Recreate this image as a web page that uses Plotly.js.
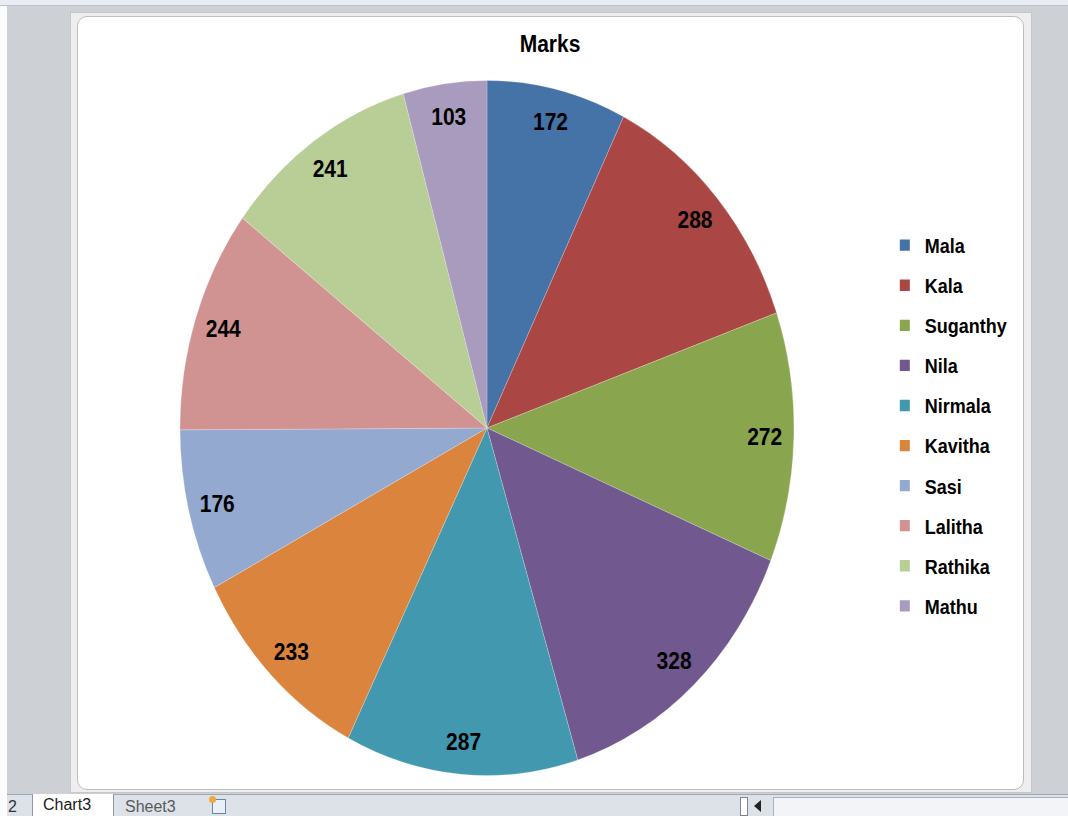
<!DOCTYPE html>
<html>
<head>
<meta charset="utf-8">
<script src="https://cdn.plot.ly/plotly-3.0.1.min.js"></script>
<style>
  html, body { margin: 0; padding: 0; width: 1068px; height: 816px; overflow: hidden; background: #CDD1D6; font-family: "Liberation Sans", Arial, sans-serif; }
  #leftstrip { position: absolute; left: 0; top: 0; width: 7px; height: 816px; background: #FBFBFC; }
  #topstrip { position: absolute; left: 0; top: 0; width: 1068px; height: 5px; background: #E9EDF3; border-bottom: 1px solid #BCC3CD; }
  #frame { position: absolute; left: 70px; top: 12px; width: 960px; height: 779px; background: #EEEEEE; border: 1px solid #C6C6C6; }
  #inner { position: absolute; left: 77px; top: 16px; width: 945px; height: 772px; background: #FFFFFF; border: 1px solid #BDBDBD; border-radius: 10px; }
  #chart { position: absolute; left: 70px; top: 12px; width: 962px; height: 690px; transform: scaleY(1.132); transform-origin: 0 0; }
  #tabbar { position: absolute; left: 7px; top: 794px; width: 1061px; height: 22px; background: #DDE2E9; border-top: 1px solid #9FA8B5; }
  .tabtxt { position: absolute; top: 2px; font-size: 16px; line-height: 20px; }
  #tab1 { position: absolute; left: 25px; top: -1px; width: 80px; height: 23px; background: #FFFFFF; border-left: 1px solid #8E98A6; border-right: 1px solid #8E98A6; }
  #scroll { position: absolute; left: 773px; top: 797px; width: 295px; height: 19px; background: #F2F4F7; border-left: 1px solid #A9B1BC; border-top: 1px solid #A9B1BC; }
  #sbox { position: absolute; left: 740px; top: 797px; width: 6px; height: 17px; background: #FFFFFF; border: 1px solid #7D8692; }
</style>
</head>
<body>
<div id="leftstrip"></div>
<div id="topstrip"></div>
<div id="frame"></div>
<div id="inner"></div>
<div id="chart"></div>
<div id="tabbar">
  <div class="tabtxt" style="left:1px;color:#333;">2</div>
  <div id="tab1"><div class="tabtxt" style="left:10px;top:1px;color:#1A1A1A;">Chart3</div></div>
  <div class="tabtxt" style="left:118px;color:#5A5A5A;">Sheet3</div>
  <div style="position:absolute;left:205px;top:4px;width:12px;height:13px;border:1px solid #6A86B0;background:#EAF0F8;"></div>
  <div style="position:absolute;left:202px;top:1px;width:7px;height:7px;border-radius:4px;background:#F2A93B;"></div>
</div>
<div id="sbox"></div>
<div style="position:absolute;left:754px;top:800px;width:0;height:0;border-top:6px solid transparent;border-bottom:6px solid transparent;border-right:7px solid #222;"></div>
<div id="scroll"></div>
<script>
// ---- data ----
const names  = ["Mala", "Kala", "Suganthy", "Nila", "Nirmala", "Kavitha", "Sasi", "Lalitha", "Rathika", "Mathu"];
const marks  = [172, 288, 272, 328, 287, 233, 176, 244, 241, 103];
const colors = ["#4572A7", "#AA4643", "#89A54E", "#71588F", "#4198AF", "#DB843D", "#93A9CF", "#D19392", "#B9CD96", "#A99BBD"];
const chartTitle = "Marks";

// ---- styling ----
const FONT = "Liberation Sans, Arial, sans-serif";
const pieDomain = { x: [0.1143, 0.7526], y: [0.0225, 0.9123] };

const traces = [];
// main pie (fills)
traces.push({
  type: "pie",
  labels: names,
  values: marks,
  sort: false,
  direction: "clockwise",
  rotation: 0,
  domain: pieDomain,
  marker: { colors: colors, line: { color: "rgba(255,255,255,0.35)", width: 0.6 } },
  textinfo: "none",
  showlegend: false,
  hoverinfo: "label+value"
});
// label carrier (same data, transparent ring to place labels near the rim)
traces.push({
  type: "pie",
  labels: names,
  values: marks,
  sort: false,
  direction: "clockwise",
  rotation: 0,
  domain: pieDomain,
  hole: 0.81,
  marker: { colors: names.map(() => "rgba(0,0,0,0)"), line: { width: 0 } },
  textinfo: "value",
  textposition: "inside",
  insidetextorientation: "horizontal",
  insidetextfont: { family: FONT, size: 21, color: "#000000", weight: "bold" },
  showlegend: false,
  hoverinfo: "skip"
});
// legend entries, one per category
names.forEach((n, i) => {
  traces.push({
    type: "scatter",
    mode: "markers",
    x: [null], y: [null],
    name: n,
    legendgroup: "g" + i,
    showlegend: true,
    marker: { symbol: "square", size: 10, color: colors[i] },
    hoverinfo: "skip"
  });
});

const layout = {
  width: 962,
  height: 690,
  margin: { l: 0, r: 0, t: 0, b: 0, autoexpand: false },
  paper_bgcolor: "rgba(0,0,0,0)",
  plot_bgcolor: "rgba(0,0,0,0)",
  font: { family: FONT, color: "#000000" },
  title: {
    text: chartTitle,
    font: { family: FONT, size: 21, color: "#000000", weight: "bold" },
    x: 0.499, xref: "container", xanchor: "center",
    y: 0.959, yref: "container", yanchor: "middle"
  },
  xaxis: { visible: false, showgrid: false, zeroline: false },
  yaxis: { visible: false, showgrid: false, zeroline: false },
  showlegend: true,
  legend: {
    x: 0.847, xanchor: "left",
    y: 0.4706, yanchor: "middle",
    bgcolor: "rgba(0,0,0,0)",
    borderwidth: 0,
    tracegroupgap: 9,
    traceorder: "grouped",
    font: { family: FONT, size: 18, color: "#000000", weight: "bold" }
  }
};

Plotly.newPlot("chart", traces, layout, { staticPlot: true, displayModeBar: false });
</script>
</body>
</html>
